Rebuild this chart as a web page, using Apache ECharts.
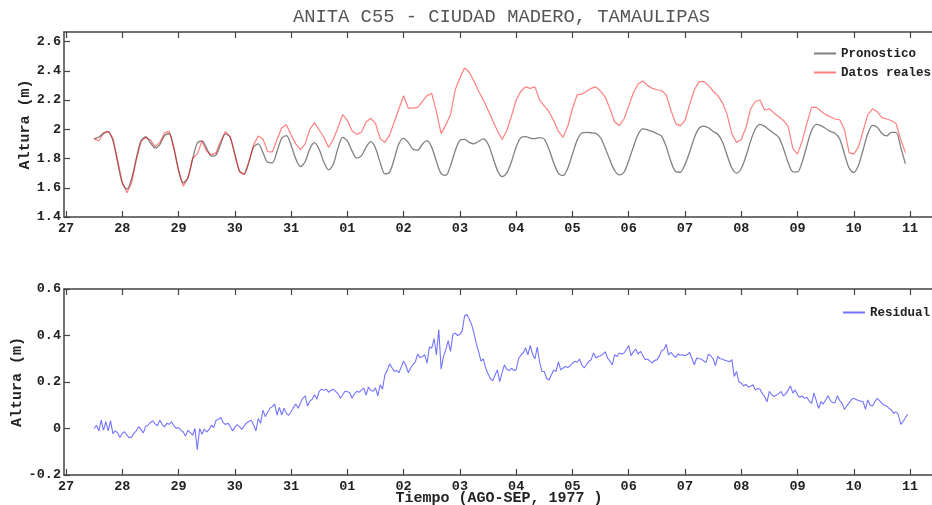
<!DOCTYPE html>
<html><head><meta charset="utf-8">
<script src="https://cdn.jsdelivr.net/npm/echarts@6/dist/echarts.min.js"></script>
<style>html,body{margin:0;padding:0;background:#fff}#c{width:932px;height:505px}</style>
</head><body><div id="c"></div>
<script>
// ---------------- data ----------------
const titleText = 'ANITA C55 - CIUDAD MADERO, TAMAULIPAS';
const xAxisTitle = 'Tiempo (AGO-SEP, 1977 )';
const yAxisTitle = 'Altura (m)';
const xTickValues = [27,28,29,30,31,32,33,34,35,36,37,38,39,40,41,42];
const xTickLabels = ['27','28','29','30','31','01','02','03','04','05','06','07','08','09','10','11'];
const yTopTicks = [1.4,1.6,1.8,2.0,2.2,2.4,2.6];
const yBotTicks = [-0.2,0,0.2,0.4,0.6];

// two-hourly series starting 27 Aug 12:00 (day value 27.5)
const tideStart = 27.5;
const tideStepDays = 1/12;
const pronostico = [
 1.934,1.947,1.972,1.984,1.922,1.775,1.632,1.590,1.663,1.802,1.921,1.947,
 1.908,1.872,1.895,1.956,1.971,1.869,1.720,1.633,1.670,1.796,1.906,1.921,
 1.869,1.816,1.825,1.901,1.968,1.946,1.830,1.714,1.694,1.776,1.878,1.900,
 1.841,1.774,1.770,1.848,1.938,1.956,1.891,1.798,1.745,1.778,1.867,1.908,
 1.861,1.775,1.722,1.761,1.871,1.944,1.920,1.852,1.803,1.818,1.878,1.915,
 1.872,1.772,1.695,1.705,1.797,1.901,1.938,1.909,1.863,1.857,1.898,1.922,
 1.876,1.779,1.697,1.685,1.751,1.853,1.924,1.931,1.910,1.900,1.918,1.934,
 1.899,1.812,1.719,1.676,1.702,1.778,1.879,1.943,1.950,1.940,1.936,1.943,
 1.932,1.863,1.771,1.699,1.683,1.734,1.829,1.924,1.974,1.978,1.976,1.972,
 1.942,1.870,1.790,1.718,1.688,1.706,1.785,1.879,1.964,2.002,1.996,1.985,
 1.970,1.953,1.880,1.780,1.711,1.706,1.758,1.845,1.942,2.007,2.022,2.010,
 1.985,1.966,1.913,1.821,1.735,1.700,1.732,1.815,1.919,2.002,2.034,2.020,
 1.995,1.971,1.945,1.869,1.772,1.709,1.708,1.777,1.887,1.991,2.034,2.025,
 2.005,1.985,1.973,1.934,1.833,1.735,1.703,1.754,1.860,1.971,2.027,2.014,
 1.971,1.955,1.978,1.978,1.878,1.764
];
const datosReales = [
 1.934,1.920,1.975,1.985,1.940,1.790,1.640,1.565,1.635,1.790,1.915,1.945,
 1.927,1.880,1.910,1.975,1.985,1.875,1.720,1.610,1.665,1.800,1.830,1.920,
 1.850,1.825,1.840,1.920,1.985,1.950,1.830,1.710,1.690,1.775,1.893,1.954,
 1.934,1.847,1.845,1.930,2.010,2.030,1.960,1.900,1.860,1.900,2.000,2.045,
 1.995,1.945,1.875,1.930,2.010,2.100,2.060,1.990,1.965,1.980,2.050,2.075,
 2.040,1.935,1.910,1.960,2.050,2.140,2.230,2.144,2.144,2.150,2.190,2.230,
 2.245,2.120,1.970,2.030,2.100,2.270,2.350,2.420,2.390,2.330,2.260,2.200,
 2.132,2.060,1.990,1.930,1.990,2.090,2.200,2.260,2.290,2.280,2.290,2.200,
 2.160,2.120,2.060,1.985,1.945,2.020,2.140,2.235,2.240,2.260,2.280,2.290,
 2.260,2.220,2.140,2.050,2.025,2.070,2.160,2.250,2.310,2.330,2.300,2.280,
 2.270,2.265,2.235,2.130,2.040,2.023,2.060,2.170,2.270,2.326,2.326,2.300,
 2.260,2.230,2.180,2.100,1.970,1.910,1.930,2.010,2.140,2.190,2.200,2.130,
 2.140,2.110,2.086,2.060,2.020,1.870,1.830,1.920,2.040,2.150,2.150,2.125,
 2.100,2.086,2.070,2.065,2.000,1.840,1.830,1.880,1.990,2.100,2.140,2.120,
 2.080,2.070,2.060,2.040,1.930,1.840
];

// hourly residual starting 27 Aug 12:00
const residStart = 27.5;
const residStepDays = 1/24;
const residual = [
 0.000,0.014,-0.010,0.036,-0.007,0.029,-0.010,0.034,-0.022,-0.010,-0.018,-0.039,-0.020,-0.014,-0.029,-0.040,-0.036,-0.020,-0.010,0.008,-0.005,-0.019,0.010,0.014,
 0.026,0.033,0.020,0.012,0.036,0.018,0.007,0.022,0.018,0.029,0.012,0.000,0.004,-0.007,-0.015,-0.033,-0.007,-0.018,-0.029,0.000,-0.091,0.000,-0.025,-0.002,
 -0.015,-0.005,0.014,0.004,0.036,0.039,0.048,0.025,0.017,0.023,0.010,-0.010,0.005,0.017,0.008,-0.004,0.010,0.024,0.030,0.036,0.015,-0.010,0.043,0.022,
 0.079,0.051,0.070,0.087,0.094,0.105,0.058,0.091,0.058,0.087,0.065,0.057,0.072,0.090,0.105,0.087,0.110,0.130,0.140,0.097,0.118,0.126,0.145,0.126,
 0.160,0.169,0.164,0.169,0.156,0.165,0.169,0.160,0.150,0.130,0.145,0.160,0.158,0.155,0.130,0.148,0.160,0.156,0.165,0.174,0.144,0.178,0.165,0.160,
 0.175,0.140,0.188,0.169,0.231,0.250,0.278,0.262,0.245,0.250,0.240,0.265,0.290,0.270,0.240,0.260,0.275,0.287,0.320,0.305,0.310,0.317,0.281,0.350,
 0.346,0.387,0.317,0.426,0.255,0.310,0.339,0.378,0.332,0.405,0.410,0.400,0.405,0.420,0.485,0.490,0.470,0.447,0.410,0.365,0.330,0.290,0.299,0.260,
 0.235,0.215,0.205,0.230,0.252,0.202,0.240,0.274,0.255,0.249,0.259,0.250,0.252,0.300,0.315,0.325,0.346,0.317,0.357,0.320,0.299,0.350,0.287,0.245,
 0.245,0.215,0.209,0.230,0.252,0.245,0.287,0.252,0.260,0.267,0.262,0.270,0.280,0.289,0.285,0.299,0.274,0.260,0.275,0.289,0.296,0.325,0.303,0.310,
 0.313,0.320,0.330,0.303,0.290,0.274,0.317,0.310,0.325,0.320,0.325,0.340,0.357,0.313,0.330,0.342,0.320,0.332,0.315,0.296,0.299,0.290,0.281,0.293,
 0.295,0.310,0.335,0.339,0.362,0.317,0.327,0.315,0.306,0.320,0.315,0.317,0.313,0.318,0.327,0.300,0.274,0.303,0.300,0.299,0.290,0.284,0.320,0.313,
 0.300,0.270,0.310,0.300,0.299,0.293,0.290,0.287,0.296,0.224,0.245,0.200,0.195,0.183,0.190,0.178,0.182,0.188,0.165,0.172,0.169,0.150,0.137,0.115,
 0.160,0.145,0.137,0.144,0.150,0.159,0.140,0.149,0.165,0.183,0.152,0.166,0.145,0.134,0.140,0.130,0.134,0.118,0.108,0.153,0.120,0.087,0.115,0.105,
 0.123,0.141,0.120,0.111,0.111,0.141,0.120,0.108,0.082,0.097,0.110,0.125,0.130,0.125,0.120,0.118,0.115,0.082,0.123,0.100,0.097,0.115,0.130,0.120,
 0.108,0.100,0.097,0.087,0.080,0.065,0.072,0.060,0.018,0.030,0.045,0.061
];

// ---------------- chart ----------------
const FONT = 'Liberation Mono';
const AXC = '#444';
const pxPerDay = 56.27;
const gridLeft = 64, gridWidth = 870;
const xMin = 27 - 2 / pxPerDay;
const xMax = xMin + gridWidth / pxPerDay;

const toPairs = (arr, start, step) => arr.map((v, i) => [start + i * step, v]);

function xAxisDef(gridIndex, pos, showLabels, name) {
  return {
    type: 'value', gridIndex, position: pos, min: xMin, max: xMax,
    axisLine: { show: true, onZero: false, lineStyle: { color: AXC, width: 1.5 } },
    axisTick: { show: true, inside: true, length: 6, customValues: xTickValues, lineStyle: { color: AXC, width: 1.2 } },
    axisLabel: {
      show: showLabels, customValues: xTickValues, margin: 5,
      fontFamily: FONT, fontWeight: 'bold', fontSize: 13.5, color: '#222',
      formatter: v => xTickLabels[xTickValues.indexOf(Math.round(v))] || ''
    },
    splitLine: { show: false },
    name: name || '', nameLocation: 'middle', nameGap: 16, nameMoveOverlap: false,
    nameTextStyle: { fontFamily: FONT, fontWeight: 'bold', fontSize: 15, color: '#222' }
  };
}
function yAxisDef(gridIndex, min, max, ticks, nameGap) {
  return {
    type: 'value', gridIndex, min, max,
    axisLine: { show: true, lineStyle: { color: AXC, width: 1.5 } },
    axisTick: { show: true, inside: true, length: 6, customValues: ticks, lineStyle: { color: AXC, width: 1.2 } },
    axisLabel: {
      customValues: ticks, margin: 3,
      fontFamily: FONT, fontWeight: 'bold', fontSize: 13.5, color: '#222'
    },
    splitLine: { show: false },
    name: yAxisTitle, nameLocation: 'middle', nameGap, nameMoveOverlap: false,
    nameTextStyle: { fontFamily: FONT, fontWeight: 'bold', fontSize: 15, color: '#222' }
  };
}

const legendText = { fontFamily: FONT, fontWeight: 'bold', fontSize: 12.5, color: '#222' };

const chart = echarts.init(document.getElementById('c'), null, { renderer: 'canvas' });
chart.setOption({
  animation: false,
  backgroundColor: '#fff',
  title: {
    text: titleText, left: 293, top: 8, padding: 0,
    textStyle: { fontFamily: FONT, fontWeight: 'normal', fontSize: 18.8, color: '#555' }
  },
  grid: [
    { left: gridLeft, top: 32, width: gridWidth, height: 185, containLabel: false, outerBoundsMode: 'none' },
    { left: gridLeft, top: 289, width: gridWidth, height: 186, containLabel: false, outerBoundsMode: 'none' }
  ],
  legend: [
    {
      data: ['Pronostico', 'Datos reales'], orient: 'vertical', left: 813, top: 47,
      itemWidth: 22, itemHeight: 14, itemGap: 6, padding: 0,
      itemStyle: { opacity: 0 },
      textStyle: legendText
    },
    {
      data: ['Residual'], orient: 'vertical', left: 842, top: 306,
      itemWidth: 22, itemHeight: 14, padding: 0,
      itemStyle: { opacity: 0 },
      textStyle: legendText
    }
  ],
  xAxis: [
    xAxisDef(0, 'bottom', true),
    xAxisDef(0, 'top', false),
    xAxisDef(1, 'bottom', true, xAxisTitle),
    xAxisDef(1, 'top', false)
  ],
  yAxis: [
    yAxisDef(0, 1.4, 2.665, yTopTicks, 31),
    yAxisDef(1, -0.2, 0.6, yBotTicks, 39)
  ],
  series: [
    {
      name: 'Pronostico', type: 'line', xAxisIndex: 0, yAxisIndex: 0,
      data: toPairs(pronostico, tideStart, tideStepDays),
      symbol: 'none', smooth: 0.3, lineStyle: { color: '#808080', width: 1.3 }, itemStyle: { color: '#808080' }
    },
    {
      name: 'Datos reales', type: 'line', xAxisIndex: 0, yAxisIndex: 0,
      data: toPairs(datosReales, tideStart, tideStepDays),
      symbol: 'none', lineStyle: { color: 'rgba(255,0,0,0.5)', width: 1.2 }, itemStyle: { color: 'rgba(255,0,0,0.5)' }
    },
    {
      name: 'Residual', type: 'line', xAxisIndex: 2, yAxisIndex: 1,
      data: toPairs(residual, residStart, residStepDays),
      symbol: 'none', lineStyle: { color: 'rgba(0,0,255,0.55)', width: 1.1 }, itemStyle: { color: 'rgba(0,0,255,0.55)' }
    }
  ]
});
</script></body></html>
